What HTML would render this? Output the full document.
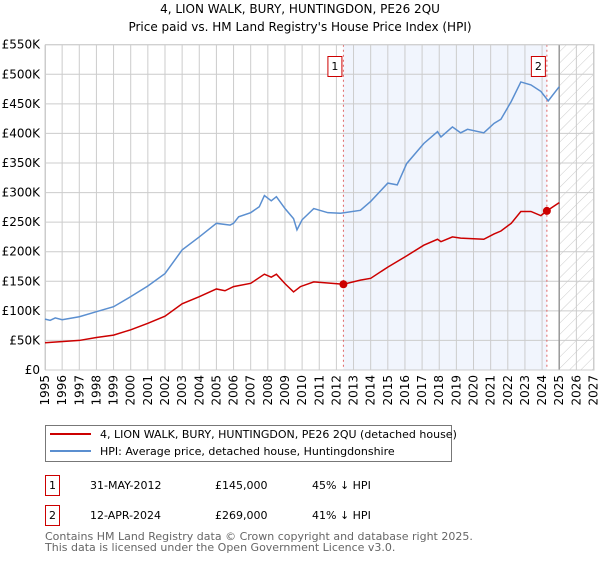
<!DOCTYPE html>
<html><head><meta charset="utf-8"><style>
body{margin:0;background:#fff;font-family:"DejaVu Sans","Liberation Sans",sans-serif;}
svg text{font-family:"DejaVu Sans","Liberation Sans",sans-serif;}
</style></head><body>
<svg id="c" width="600" height="560" viewBox="0 0 600 560" xmlns="http://www.w3.org/2000/svg">
<defs><pattern id="hatch" width="8" height="8" patternUnits="userSpaceOnUse" patternTransform="rotate(45)"><line x1="0" y1="0" x2="0" y2="8" stroke="#ccc" stroke-width="1"/></pattern></defs>
<text x="300" y="13" text-anchor="middle" font-size="12">4, LION WALK, BURY, HUNTINGDON, PE26 2QU</text>
<text x="300" y="31" text-anchor="middle" font-size="12">Price paid vs. HM Land Registry's House Price Index (HPI)</text>
<g id="plot"></g>
<g>
<rect x="45.5" y="425.5" width="406" height="36" fill="#fff" stroke="#777"/>
<line x1="50" y1="434" x2="91" y2="434" stroke="#cc0000" stroke-width="2"/>
<text x="100" y="438" font-size="11">4, LION WALK, BURY, HUNTINGDON, PE26 2QU (detached house)</text>
<line x1="50" y1="451" x2="91" y2="451" stroke="#5b8fd0" stroke-width="2"/>
<text x="100" y="455" font-size="11">HPI: Average price, detached house, Huntingdonshire</text>
</g>
<g font-size="11">
<rect x="45.5" y="475.5" width="14" height="20" fill="none" stroke="#cc0000"/>
<text x="52.5" y="489" text-anchor="middle">1</text>
<text x="90" y="489">31-MAY-2012</text><text x="215" y="489">£145,000</text><text x="312" y="489">45% ↓ HPI</text>
<rect x="45.5" y="505.5" width="14" height="20" fill="none" stroke="#cc0000"/>
<text x="52.5" y="519" text-anchor="middle">2</text>
<text x="90" y="519">12-APR-2024</text><text x="215" y="519">£269,000</text><text x="312" y="519">41% ↓ HPI</text>
</g>
<text x="45" y="540" font-size="11" fill="#666">Contains HM Land Registry data © Crown copyright and database right 2025.</text>
<text x="45" y="551" font-size="11" fill="#666">This data is licensed under the Open Government Licence v3.0.</text>
</svg>
<script>
const hpiYears=[1995,1995.3,1995.6,1996,1997,1998,1999,2000,2001,2002,2003,2004,2005,2005.8,2006,2006.3,2007,2007.5,2007.8,2008.2,2008.5,2009,2009.5,2009.7,2010,2010.68,2011.5,2012.24,2013.4,2014,2015,2015.55,2016.1,2017.1,2017.9,2018.1,2018.77,2019.25,2019.65,2020.6,2021.2,2021.6,2022.2,2022.76,2023.35,2023.93,2024.36,2025.0];
const hpiValues=[86,84,88,85,90,98.6,107,124,142,163,203,225,248,245,248,259,266,276,295,286,293,273,256,237,254,273,266,265,270,285,316,313,349,383,403,394,411,401,407,401,417,424,454,487,482,471,455,479];
const ppYears=[1995,1997,1998,1999,2000,2001,2002,2003,2004,2005,2005.5,2006,2007,2007.8,2008.2,2008.5,2009,2009.5,2009.9,2010.68,2011.5,2012.41,2013.4,2014,2015,2016.1,2017.1,2017.9,2018.1,2018.77,2019.25,2020.6,2021.2,2021.6,2022.2,2022.76,2023.35,2023.93,2024.28,2025.0];
const ppValues=[46,50,55,59,68,79,91,112,124,137,134,141,146.5,162,157,162,146,132,141,149,147,145,152,155,174,193,211,221,217,225,223,221,230,235,248,268,268,261,269,283];
const saleYears=[2012.41,2024.28];
const saleValues=[145,269];
const saleLabels=["1","2"];
const yTicks=[0,50,100,150,200,250,300,350,400,450,500,550];
const yTickLabels=["£0","£50K","£100K","£150K","£200K","£250K","£300K","£350K","£400K","£450K","£500K","£550K"];
const xTicks=[1995,1996,1997,1998,1999,2000,2001,2002,2003,2004,2005,2006,2007,2008,2009,2010,2011,2012,2013,2014,2015,2016,2017,2018,2019,2020,2021,2022,2023,2024,2025,2026,2027];
const dataEnd=2025.0;

const L=45,R=593.5,T=44.7,B=370;
const x=v=>L+(v-1995)*(R-L)/32;
const y=v=>B-v*(B-T)/550;
const NS="http://www.w3.org/2000/svg";
const g=document.getElementById('plot');
function mk(tag,attrs,parent){const e=document.createElementNS(NS,tag);for(const k in attrs)e.setAttribute(k,attrs[k]);(parent||g).appendChild(e);return e;}
// shaded ownership band
let band=mk('rect',{x:x(saleYears[0]),y:T,width:x(saleYears[1])-x(saleYears[0]),height:B-T,fill:'#eef3fc',opacity:0.8});


let hat=mk('rect',{x:x(dataEnd),y:T,width:R-x(dataEnd),height:B-T,fill:'url(#hatch)'});


// grid
yTicks.forEach((t,i)=>{
  let l=mk('line',{x1:L,x2:R,y1:y(t),y2:y(t),stroke:'#ccc','stroke-width':1});
  
  
  let tx=mk('text',{x:L-5,y:y(t)+4,'text-anchor':'end','font-size':12});
  tx.textContent=yTickLabels[i];
  
  
});
xTicks.forEach(t=>{
  let l=mk('line',{x1:x(t),x2:x(t),y1:T,y2:B,stroke:'#ccc','stroke-width':1});
  
  
  let tx=mk('text',{x:x(t)+4,y:B+5,'text-anchor':'end','font-size':12,transform:`rotate(-90 ${x(t)+4} ${B+5})`});
  tx.textContent=t;
  
  
});
let dl=mk('line',{x1:x(dataEnd),x2:x(dataEnd),y1:T,y2:B,stroke:'#999','stroke-width':1.5});


// sale markers lines
saleYears.forEach((sy,i)=>{
  let l=mk('line',{x1:x(sy),x2:x(sy),y1:T,y2:B,stroke:'#e06666','stroke-dasharray':'2,3','stroke-width':1});
  
  
  let bx=mk('rect',{x:x(sy)-15.5,y:56.5,width:14,height:20,fill:'#fff',stroke:'#cc0000'});
  
  
  let tx=mk('text',{x:x(sy)-8.5,y:70,'text-anchor':'middle','font-size':11});
  tx.textContent=saleLabels[i];
  
  
});
mk('rect',{x:L+0.5,y:T,width:R-L,height:B-T,fill:'none',stroke:'#ccc'});
// series
let hp=mk('polyline',{points:hpiYears.map((v,i)=>x(v)+','+y(hpiValues[i])).join(' '),fill:'none',stroke:'#5b8fd0','stroke-width':1.5});


let pp=mk('polyline',{points:ppYears.map((v,i)=>x(v)+','+y(ppValues[i])).join(' '),fill:'none',stroke:'#cc0000','stroke-width':1.5});


saleYears.forEach((sy,i)=>{
  let c=mk('circle',{cx:x(sy),cy:y(saleValues[i]),r:4,fill:'#cc0000'});
  
  
});
</script>
</body></html>
